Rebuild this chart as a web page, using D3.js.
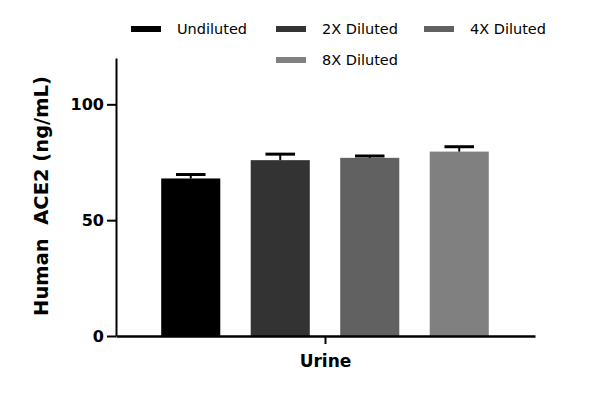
<!DOCTYPE html>
<html><head><meta charset="utf-8">
<script src="https://cdn.jsdelivr.net/npm/d3@7"></script>
<style>body{margin:0;background:#fff}svg{display:block}</style>
</head><body>
<svg id="c" width="600" height="397"></svg>
<script>
const categories = ["Urine"];
const series = ["Undiluted", "2X Diluted", "4X Diluted", "8X Diluted"];
const means = [68.0, 75.9, 76.9, 79.6];
const errors = [1.7, 2.6, 0.8, 2.1];
const colors = ["#000000", "#333333", "#616161", "#808080"];
const yTicks = [0, 50, 100];

const svg = d3.select("#c");
const font = "DejaVu Sans, sans-serif";
const y = d3.scaleLinear().domain([0, 120]).range([336, 58]);
const xCat = d3.scaleBand().domain(categories).range([116, 535]);
const x = d3.scaleBand().domain(series).range([146, 504]).paddingInner(0.34).paddingOuter(0.17);

// bars
svg.selectAll("rect.bar").data(series).enter().append("rect")
  .attr("x", d => x(d)).attr("width", x.bandwidth())
  .attr("y", (d,i) => y(means[i])).attr("height", (d,i) => y(0) - y(means[i]))
  .attr("fill", (d,i) => colors[i]);

// error bars
const eg = svg.append("g").attr("stroke", "#000");
series.forEach((s,i) => {
  const cx = x(s) + x.bandwidth()/2;
  eg.append("line").attr("x1", cx).attr("x2", cx).attr("y1", y(means[i])).attr("y2", y(means[i]+errors[i])).attr("stroke-width", 2);
  eg.append("line").attr("x1", cx - x.bandwidth()/4).attr("x2", cx + x.bandwidth()/4)
    .attr("y1", y(means[i]+errors[i])).attr("y2", y(means[i]+errors[i])).attr("stroke-width", 3);
});

// y axis
const yAxis = svg.append("g").attr("transform", "translate(116,0)")
  .call(d3.axisLeft(y).tickValues(yTicks).tickSize(9).tickPadding(3).tickSizeOuter(0));
yAxis.select(".domain").attr("stroke-width", 2);
yAxis.selectAll(".tick line").attr("stroke-width", 2);
yAxis.selectAll("text").attr("font-family", font).attr("font-weight", "bold").attr("font-size", 16).attr("fill", "#000");

// x axis
const xAxis = svg.append("g").attr("transform", "translate(0,336)")
  .call(d3.axisBottom(xCat).tickSize(8).tickSizeOuter(0).tickPadding(11));
xAxis.select(".domain").attr("stroke-width", 2.5);
xAxis.selectAll(".tick line").attr("stroke-width", 2);
xAxis.selectAll("text").attr("font-family", font).attr("font-weight", "bold").attr("font-size", 17).attr("fill", "#000");

// y label
svg.append("text").attr("transform", "translate(48,196) rotate(-90)")
  .attr("text-anchor", "middle").attr("font-family", font).attr("font-weight", "bold").attr("font-size", 19.5)
  .attr("xml:space", "preserve").style("white-space", "pre")
  .text("Human  ACE2 (ng/mL)");

// legend
const legPos = [[131, 29], [276, 29], [424, 29], [276, 60]];
series.forEach((s,i) => {
  const [lx, ly] = legPos[i];
  svg.append("rect").attr("x", lx).attr("y", ly - 3).attr("width", 30).attr("height", 6).attr("fill", colors[i]);
  svg.append("text").attr("x", lx + 46).attr("y", ly + 5).attr("font-family", font).attr("font-size", 14.5).attr("fill", "#000").text(s);
});
</script>
</body></html>
